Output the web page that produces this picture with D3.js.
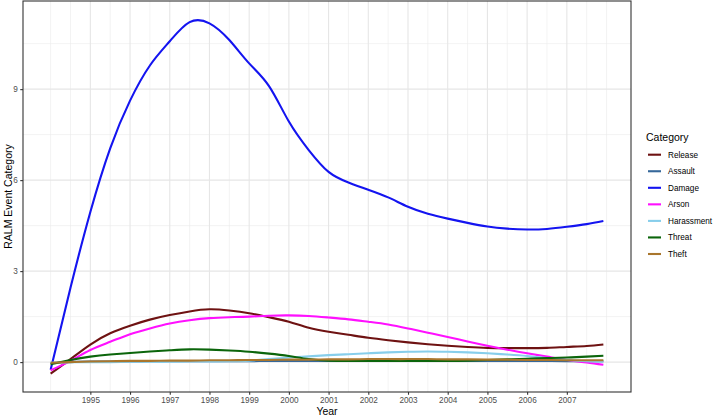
<!DOCTYPE html>
<html>
<head>
<meta charset="utf-8">
<script src="https://cdn.jsdelivr.net/npm/d3@7"></script>
<style>
  html, body { margin: 0; padding: 0; background: #fff; }
  svg { display: block; font-family: "Liberation Sans", Arial, sans-serif; }
</style>
</head>
<body>
<svg id="chart" width="714" height="417"></svg>
<script>
// ---- data ----
const categories = ["Release", "Assault", "Damage", "Arson", "Harassment", "Threat", "Theft"];
const colors = ["#6E1212", "#36689A", "#1414F0", "#FF10FF", "#87CEEB", "#0B650B", "#A9762C"];
const years = [1994, 1994.5, 1995, 1995.5, 1996, 1996.5, 1997, 1997.5, 1998, 1998.5, 1999, 1999.5, 2000, 2000.5,
               2001, 2001.5, 2002, 2002.5, 2003, 2003.5, 2004, 2004.5, 2005, 2005.5, 2006, 2006.5, 2007, 2007.5, 2007.92];
const release    = [-0.38, 0.10, 0.58, 0.95, 1.20, 1.40, 1.55, 1.67, 1.74, 1.70, 1.61, 1.48, 1.33, 1.13,
                    1.00, 0.90, 0.80, 0.72, 0.65, 0.59, 0.54, 0.50, 0.47, 0.46, 0.46, 0.47, 0.50, 0.53, 0.58];
const assault    = [-0.04, 0.01, 0.02, 0.02, 0.02, 0.03, 0.03, 0.03, 0.03, 0.03, 0.03, 0.04, 0.04, 0.04,
                    0.04, 0.04, 0.04, 0.04, 0.04, 0.04, 0.04, 0.04, 0.04, 0.04, 0.04, 0.04, 0.03, 0.03, 0.03];
const damage     = [-0.25, 2.45, 4.95, 7.05, 8.62, 9.78, 10.58, 11.21, 11.17, 10.62, 9.85, 9.10, 7.93, 6.99,
                    6.27, 5.92, 5.68, 5.43, 5.12, 4.89, 4.73, 4.59, 4.47, 4.40, 4.37, 4.39, 4.46, 4.55, 4.65];
const arson      = [-0.27, 0.04, 0.40, 0.67, 0.92, 1.11, 1.27, 1.38, 1.45, 1.48, 1.50, 1.53, 1.54, 1.52,
                    1.47, 1.41, 1.33, 1.24, 1.11, 0.97, 0.83, 0.68, 0.54, 0.41, 0.29, 0.18, 0.07, -0.01, -0.09];
const harassment = [-0.02, -0.01, 0.00, 0.00, 0.01, 0.01, 0.01, 0.02, 0.02, 0.03, 0.05, 0.10, 0.15, 0.19,
                    0.23, 0.26, 0.29, 0.32, 0.34, 0.35, 0.34, 0.32, 0.29, 0.25, 0.20, 0.13, 0.07, 0.03, 0.01];
const threat     = [-0.07, 0.07, 0.18, 0.25, 0.30, 0.35, 0.39, 0.42, 0.41, 0.38, 0.34, 0.28, 0.20, 0.10,
                    0.05, 0.04, 0.04, 0.04, 0.04, 0.04, 0.04, 0.05, 0.07, 0.09, 0.11, 0.13, 0.15, 0.18, 0.21];
const theft      = [-0.02, 0.00, 0.02, 0.03, 0.04, 0.04, 0.05, 0.05, 0.06, 0.06, 0.07, 0.07, 0.08, 0.08,
                    0.09, 0.09, 0.10, 0.10, 0.10, 0.10, 0.09, 0.09, 0.08, 0.08, 0.07, 0.07, 0.06, 0.06, 0.06];
const seriesValues = [release, assault, damage, arson, harassment, threat, theft];
const xTickLabels = ["1995","1996","1997","1998","1999","2000","2001","2002","2003","2004","2005","2006","2007"];
const yTickValues = [0, 3, 6, 9];
const xTitle = "Year", yTitle = "RALM Event Category", legendTitle = "Category";

// ---- layout ----
const svg = d3.select("#chart");
const panel = {left: 23, right: 631, top: 1, bottom: 392};
const xMin = d3.min(years), xMax = d3.max(years);
const yMin = -0.4, yMax = 11.32; // extremes of the smoothed curves
const xPad = (xMax - xMin) * 0.05, yPad = (yMax - yMin) * 0.05;
const x = d3.scaleLinear().domain([xMin - xPad, xMax + xPad]).range([panel.left, panel.right]);
const y = d3.scaleLinear().domain([yMin - yPad, yMax + yPad]).range([panel.bottom, panel.top]);

const g = svg.append("g");
g.append("rect").attr("x", panel.left).attr("y", panel.top)
  .attr("width", panel.right - panel.left).attr("height", panel.bottom - panel.top).attr("fill", "#fff");

// minor gridlines
const xMajors = xTickLabels.map(Number);
const xMinors = d3.range(1994, 2008.01, 0.5).filter(v => !xMajors.includes(v));
const yMinors = [-1.5, 1.5, 4.5, 7.5, 10.5].filter(v => v > y.domain()[0] && v < y.domain()[1]);
g.selectAll(".xminor").data(xMinors).join("line")
  .attr("x1", d => x(d)).attr("x2", d => x(d)).attr("y1", panel.top).attr("y2", panel.bottom)
  .attr("stroke", "#EBEBEB").attr("stroke-width", 0.6);
g.selectAll(".yminor").data(yMinors).join("line")
  .attr("y1", d => y(d)).attr("y2", d => y(d)).attr("x1", panel.left).attr("x2", panel.right)
  .attr("stroke", "#EBEBEB").attr("stroke-width", 0.6);
// major gridlines
g.selectAll(".xmajor").data(xMajors).join("line")
  .attr("x1", d => x(d)).attr("x2", d => x(d)).attr("y1", panel.top).attr("y2", panel.bottom)
  .attr("stroke", "#E6E6E6").attr("stroke-width", 1.1);
g.selectAll(".ymajor").data(yTickValues).join("line")
  .attr("y1", d => y(d)).attr("y2", d => y(d)).attr("x1", panel.left).attr("x2", panel.right)
  .attr("stroke", "#E6E6E6").attr("stroke-width", 1.1);

// lines
const line = d3.line().x(d => x(d[0])).y(d => y(d[1])).curve(d3.curveNatural);
categories.forEach((c, i) => {
  g.append("path")
    .datum(years.map((yr, j) => [yr, seriesValues[i][j]]))
    .attr("d", line).attr("fill", "none")
    .attr("stroke", colors[i]).attr("stroke-width", 2.1)
    .attr("stroke-linejoin", "round").attr("stroke-linecap", "butt");
});

// panel border
g.append("rect").attr("x", panel.left).attr("y", panel.top)
  .attr("width", panel.right - panel.left).attr("height", panel.bottom - panel.top)
  .attr("fill", "none").attr("stroke", "#333333").attr("stroke-width", 1.1);

// axes
const xAxis = d3.axisBottom(x).tickValues(xMajors).tickFormat((d, i) => xTickLabels[i])
  .tickSizeInner(2.75).tickSizeOuter(0).tickPadding(2.5);
const xa = svg.append("g").attr("transform", `translate(0,${panel.bottom})`).call(xAxis);
xa.select(".domain").remove();
xa.selectAll(".tick line").attr("stroke", "#333333").attr("stroke-width", 1.1);
xa.selectAll(".tick text").attr("fill", "#4D4D4D").attr("font-size", 8.2)
  .attr("font-family", "Liberation Sans, Arial, sans-serif");

const yAxis = d3.axisLeft(y).tickValues(yTickValues).tickFormat(d3.format("d"))
  .tickSizeInner(2.75).tickSizeOuter(0).tickPadding(2.5);
const ya = svg.append("g").attr("transform", `translate(${panel.left},0)`).call(yAxis);
ya.select(".domain").remove();
ya.selectAll(".tick line").attr("stroke", "#333333").attr("stroke-width", 1.1);
ya.selectAll(".tick text").attr("fill", "#4D4D4D").attr("font-size", 8.2)
  .attr("font-family", "Liberation Sans, Arial, sans-serif");

// axis titles
svg.append("text").attr("x", (panel.left + panel.right) / 2).attr("y", 415)
  .attr("text-anchor", "middle").attr("font-size", 10.5).attr("fill", "#000").text(xTitle);
svg.append("text").attr("transform", `translate(11.5,${(panel.top + panel.bottom) / 2}) rotate(-90)`)
  .attr("text-anchor", "middle").attr("font-size", 10.5).attr("fill", "#000").text(yTitle);

// legend
const lg = svg.append("g").attr("transform", "translate(646,0)");
lg.append("text").attr("x", 0).attr("y", 141).attr("font-size", 10.5).attr("fill", "#000").text(legendTitle);
categories.forEach((c, i) => {
  const cy = 154.7 + i * 16.55;
  lg.append("line").attr("x1", 2).attr("x2", 15).attr("y1", cy).attr("y2", cy)
    .attr("stroke", colors[i]).attr("stroke-width", 2.1);
  lg.append("text").attr("x", 22).attr("y", cy + 3).attr("font-size", 8.2).attr("fill", "#000").text(c);
});
</script>
</body>
</html>
